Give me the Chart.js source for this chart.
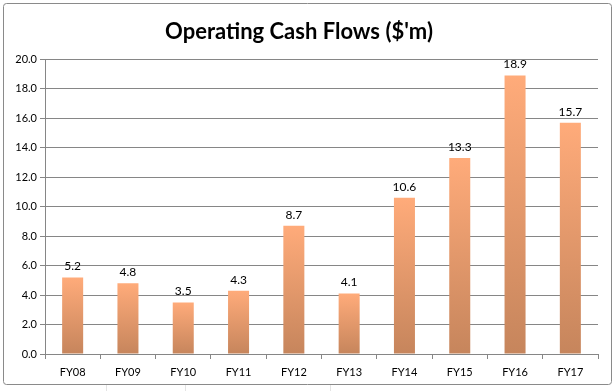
<!DOCTYPE html>
<html><head><meta charset="utf-8">
<script src="https://cdn.jsdelivr.net/npm/chart.js@4/dist/chart.umd.min.js"></script>
<style>html,body{margin:0;padding:0;background:#fff;}#wrap{position:relative;width:615px;height:391px;}</style>
</head><body><div id="wrap"><canvas id="c" width="615" height="391"></canvas></div>
<script>
const categories = ["FY08","FY09","FY10","FY11","FY12","FY13","FY14","FY15","FY16","FY17"];
const cashFlows = [5.2, 4.8, 3.5, 4.3, 8.7, 4.1, 10.6, 13.3, 18.9, 15.7];
const titleText = "Operating Cash Flows ($'m)";
const yMin = 0, yMax = 20, yStep = 2;

const FONT = "Lato, 'Open Sans', sans-serif";

const frame = {
  id: 'frame',
  beforeDraw(chart) {
    const c = chart.ctx;
    c.save();
    c.fillStyle = '#fff';
    c.fillRect(0, 0, chart.width, chart.height);
    c.strokeStyle = '#e4e4e4';
    c.lineWidth = 1;
    [106, 185, 330].forEach(x => { c.beginPath(); c.moveTo(x + .5, 385); c.lineTo(x + .5, 391); c.stroke(); });
    c.strokeStyle = '#8a8a8a';
    c.beginPath();
    c.roundRect(3.5, 3.5, 608, 381, 3);
    c.stroke();
    c.restore();
  }
};

const labels = {
  id: 'labels',
  afterDatasetsDraw(chart) {
    const c = chart.ctx;
    const meta = chart.getDatasetMeta(0);
    c.save();
    c.font = '12px ' + FONT;
    c.fillStyle = '#000';
    c.textAlign = 'center';
    c.textBaseline = 'bottom';
    meta.data.forEach((bar, i) => {
      c.fillText(cashFlows[i].toFixed(1), bar.x, bar.y - 5);
    });
    c.restore();
  }
};

new Chart(document.getElementById('c'), {
  type: 'bar',
  data: {
    labels: categories,
    datasets: [{
      data: cashFlows,
      barPercentage: 0.38,
      categoryPercentage: 1,
      backgroundColor: (ctx) => {
        const chart = ctx.chart;
        if (!chart.chartArea) return '#f0a070';
        const y = chart.scales.y;
        const top = y.getPixelForValue(ctx.raw);
        const bot = y.getPixelForValue(0);
        const g = chart.ctx.createLinearGradient(0, top, 0, bot);
        g.addColorStop(0, '#FFAB7A');
        g.addColorStop(1, '#C6855C');
        return g;
      }
    }]
  },
  options: {
    responsive: false,
    animation: false,
    devicePixelRatio: 1,
    layout: { padding: { top: 0, left: 0, right: 17, bottom: 0 } },
    plugins: {
      legend: { display: false },
      tooltip: { enabled: false },
      title: {
        display: true,
        text: titleText,
        color: '#000',
        font: { family: FONT, size: 22, weight: 'bold' },
        padding: { top: 19, bottom: 14 }
      }
    },
    scales: {
      x: {
        grid: { display: true, offset: true, drawOnChartArea: false, drawTicks: true, tickLength: 5, color: '#868686' },
        border: { display: true, color: '#868686' },
        ticks: { color: '#000', font: { family: FONT, size: 11 }, padding: 7 },
        afterFit(s) { s.height = 37; }
      },
      y: {
        min: yMin, max: yMax,
        grid: { color: '#868686', drawTicks: true, tickLength: 5 },
        border: { display: true, color: '#868686' },
        ticks: { stepSize: yStep, color: '#000', font: { family: FONT, size: 11 }, padding: 3,
          callback: v => Number(v).toFixed(1) },
        afterFit(s) { s.width = 45; }
      }
    }
  },
  plugins: [frame, labels]
});
</script></body></html>
